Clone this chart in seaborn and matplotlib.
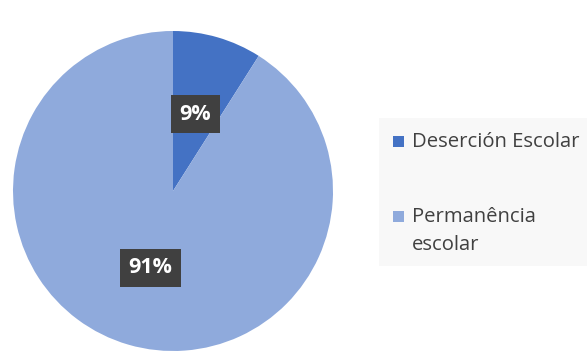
import matplotlib
matplotlib.use("Agg")
import matplotlib.pyplot as plt
import seaborn as sns
from matplotlib.patches import Rectangle

sns.set_theme(style="white")
plt.rcParams['font.family'] = ['Open Sans', 'DejaVu Sans']

categories = ["Deserción Escolar", "Permanência\nescolar"]
values = [9, 91]
colors = ["#4472C4", "#8FAADC"]

W, H = 587, 352
fig = plt.figure(figsize=(W / 100, H / 100), dpi=100)
fig.patch.set_facecolor("white")

cx, cy, r = 173, 191, 160
ax = fig.add_axes([(cx - r) / W, (H - cy - r) / H, 2 * r / W, 2 * r / H])
wedges, texts, autotexts = ax.pie(
    values, colors=colors, startangle=90, counterclock=False,
    autopct=lambda p: f"{p:.0f}%", pctdistance=0.5, radius=1,
    wedgeprops=dict(linewidth=0),
    textprops=dict(color="white", fontsize=15.5, fontweight="bold"),
)
for t in autotexts:
    t.set_bbox(dict(boxstyle="square,pad=0.4", facecolor="#404040", edgecolor="none"))
ax.set_xlim(-1, 1)
ax.set_ylim(-1, 1)
ax.set_aspect("equal")
ax.axis("off")

# Legend panel
fig.patches.append(Rectangle((379 / W, 1 - 266 / H), (W - 379) / W, (266 - 118) / H,
                             transform=fig.transFigure, facecolor="#F8F8F8",
                             edgecolor="none", zorder=0))
baselines = [147, 222]
for lab, col, yb in zip(categories, colors, baselines):
    fig.patches.append(Rectangle((393 / W, 1 - yb / H), 11 / W, 11 / H,
                                 transform=fig.transFigure, facecolor=col,
                                 edgecolor="none", zorder=1))
    fig.text(412 / W, 1 - yb / H, lab.split("\n")[0], ha="left", va="baseline",
             fontsize=14.6, color="#404040")
    if "\n" in lab:
        fig.text(412 / W, 1 - (yb + 28) / H, lab.split("\n")[1], ha="left",
                 va="baseline", fontsize=14.6, color="#404040")

fig.savefig("out.png", dpi=100)
